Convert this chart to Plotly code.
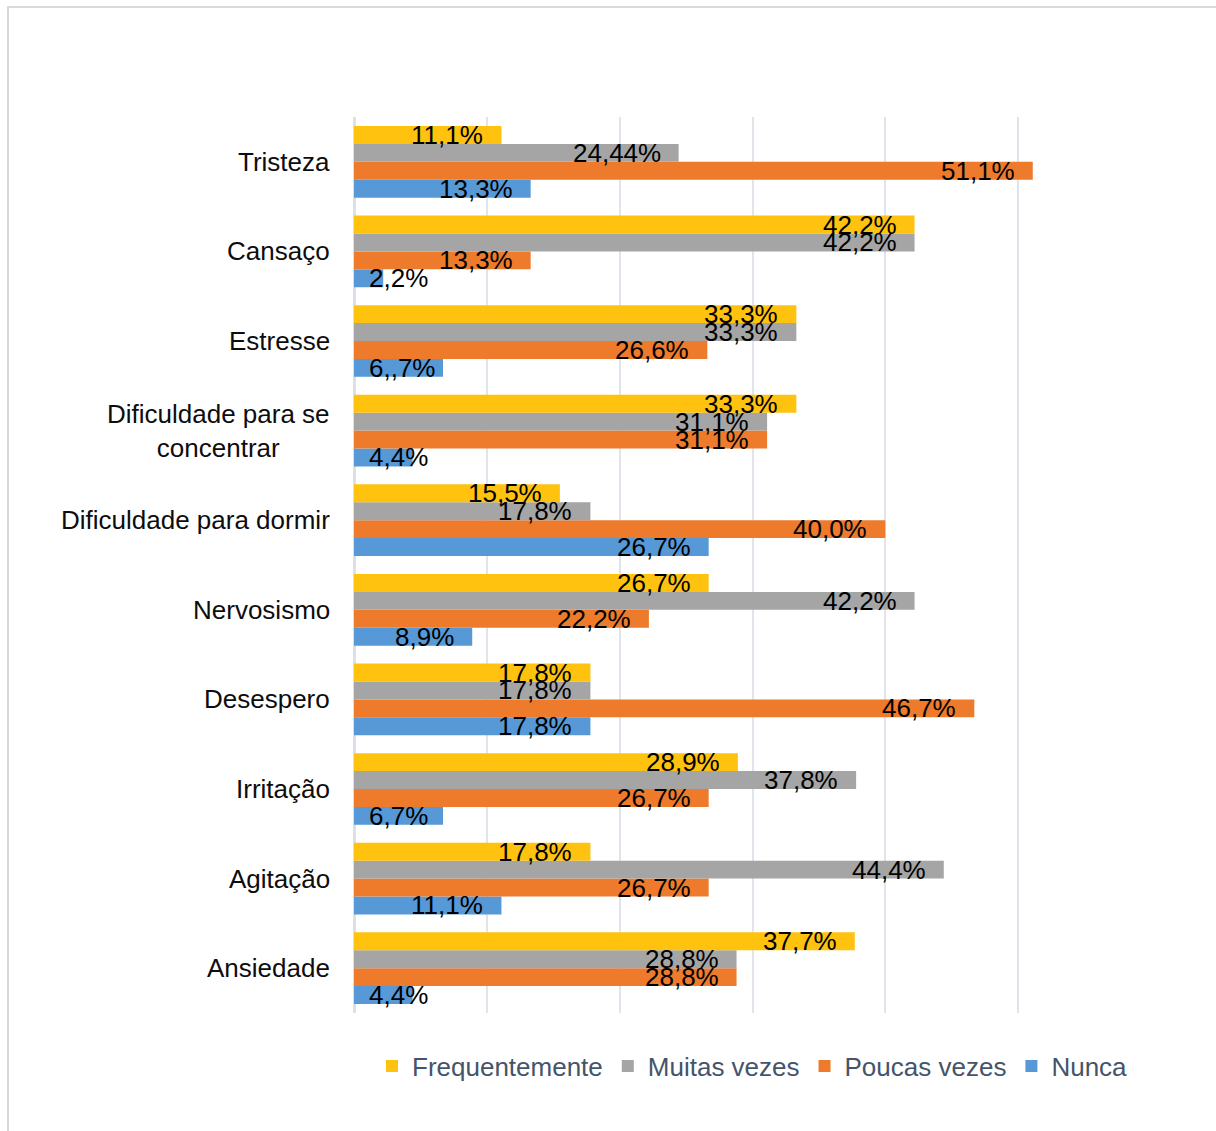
import plotly.graph_objects as go

# ---------------- data ----------------
categories = ["Tristeza", "Cansaço", "Estresse", "Dificuldade para se<br>concentrar",
              "Dificuldade para dormir", "Nervosismo", "Desespero", "Irritação",
              "Agitação", "Ansiedade"]

series_names = ["Frequentemente", "Muitas vezes", "Poucas vezes", "Nunca"]

frequentemente = [11.1, 42.2, 33.3, 33.3, 15.5, 26.7, 17.8, 28.9, 17.8, 37.7]
muitas_vezes = [24.44, 42.2, 33.3, 31.1, 17.8, 42.2, 17.8, 37.8, 44.4, 28.8]
poucas_vezes = [51.1, 13.3, 26.6, 31.1, 40.0, 22.2, 46.7, 26.7, 26.7, 28.8]
nunca = [13.3, 2.2, 6.7, 4.4, 26.7, 8.9, 17.8, 6.7, 11.1, 4.4]

labels_freq = ["11,1%", "42,2%", "33,3%", "33,3%", "15,5%", "26,7%", "17,8%", "28,9%", "17,8%", "37,7%"]
labels_muitas = ["24,44%", "42,2%", "33,3%", "31,1%", "17,8%", "42,2%", "17,8%", "37,8%", "44,4%", "28,8%"]
labels_poucas = ["51,1%", "13,3%", "26,6%", "31,1%", "40,0%", "22,2%", "46,7%", "26,7%", "26,7%", "28,8%"]
labels_nunca = ["13,3%", "2,2%", "6,,7%", "4,4%", "26,7%", "8,9%", "17,8%", "6,7%", "11,1%", "4,4%"]

x_ticks = [0, 10, 20, 30, 40, 50, 60]

# ---------------- style ----------------
W, H = 1216, 1131
ML, MR, MT, MB = 354, 65, 117, 118
FONT = "Liberation Sans, Arial, sans-serif"
colors = {"Frequentemente": "#FFC20E", "Muitas vezes": "#A5A5A5",
          "Poucas vezes": "#EE7A2C", "Nunca": "#5699D6"}

values = {"Frequentemente": frequentemente, "Muitas vezes": muitas_vezes,
          "Poucas vezes": poucas_vezes, "Nunca": nunca}
labels = {"Frequentemente": labels_freq, "Muitas vezes": labels_muitas,
          "Poucas vezes": labels_poucas, "Nunca": labels_nunca}

cat_order = categories[::-1]  # bottom-to-top
bargap = 0.2
plot_h = H - MT - MB
band = plot_h / len(categories)
bar_px = band * (1 - bargap) / len(series_names)

fig = go.Figure()
draw_order = series_names[::-1]  # Nunca first -> bottom of each group
annotations = []
for k, name in enumerate(draw_order):
    fig.add_trace(go.Bar(
        y=categories, x=values[name], name=name, orientation="h",
        marker=dict(color=colors[name], line=dict(width=0)),
        hoverinfo="skip",
    ))
    yshift = (k - 1.5) * bar_px
    for cat, v, lab in zip(categories, values[name], labels[name]):
        if v < 7:
            annotations.append(dict(x=0, y=cat, xref="x", yref="y", text=lab,
                                    xanchor="left", yanchor="middle", xshift=13,
                                    yshift=yshift, showarrow=False,
                                    font=dict(family=FONT, size=26, color="#000000")))
        else:
            annotations.append(dict(x=v, y=cat, xref="x", yref="y", text=lab,
                                    xanchor="right", yanchor="middle", xshift=-16,
                                    yshift=yshift, showarrow=False,
                                    font=dict(family=FONT, size=26, color="#000000")))

for cat in categories:
    annotations.append(dict(x=0, y=cat, xref="paper", yref="y", text=cat,
                            xanchor="right", yanchor="middle", xshift=-22,
                            align="center", showarrow=False,
                            font=dict(family=FONT, size=26, color="#0D0D0D")))

pw = W - ML - MR
frame_x0 = (8 - ML) / pw
frame_y1 = 1 + (MT - 7) / plot_h

fig.update_layout(
    width=W, height=H,
    margin=dict(l=ML, r=MR, t=MT, b=MB, pad=0),
    paper_bgcolor="white", plot_bgcolor="white",
    barmode="group", bargap=bargap, bargroupgap=0,
    font=dict(family=FONT, size=26, color="#000000"),
    xaxis=dict(range=[0, 60], tickvals=x_ticks, showticklabels=False,
               showgrid=True, gridcolor="#E1E5EB", gridwidth=2,
               zeroline=True, zerolinecolor="#DCE1E8", zerolinewidth=3,
               showline=False, fixedrange=True),
    yaxis=dict(type="category", categoryorder="array", categoryarray=cat_order,
               showticklabels=False, showgrid=False, zeroline=False,
               showline=False, range=[-0.5, len(categories) - 0.5]),
    legend=dict(orientation="h", x=0.5, xanchor="center", y=-53 / plot_h,
                yanchor="middle", traceorder="reversed",
                font=dict(family=FONT, size=26, color="#44546A"),
                itemwidth=30, tracegroupgap=0),
    annotations=annotations,
    shapes=[dict(type="rect", xref="paper", yref="paper",
                 x0=frame_x0, x1=1.3, y0=-0.3, y1=frame_y1,
                 line=dict(color="#D9D9D9", width=2), layer="below")],
    showlegend=True,
)

fig.write_html("out.html")
